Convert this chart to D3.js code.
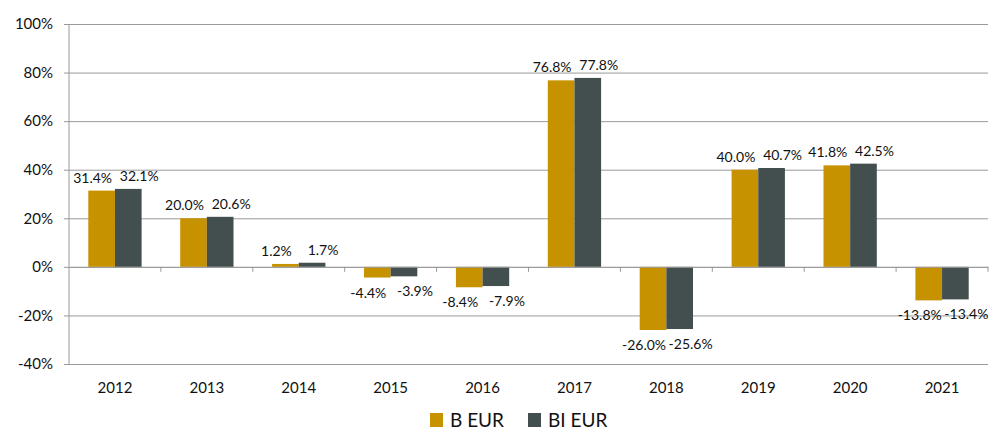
<!DOCTYPE html>
<html>
<head>
<meta charset="utf-8">
<script src="https://cdn.jsdelivr.net/npm/d3@7"></script>
<style>
  body { margin: 0; background: #fff; }
  text { font-family: Lato, "Open Sans", sans-serif; fill: #111; }
</style>
</head>
<body>
<svg width="990" height="430"></svg>
<script>
var years = ["2012", "2013", "2014", "2015", "2016", "2017", "2018", "2019", "2020", "2021"];
var bEur = [31.4, 20.0, 1.2, -4.4, -8.4, 76.8, -26.0, 40.0, 41.8, -13.8];
var biEur = [32.1, 20.6, 1.7, -3.9, -7.9, 77.8, -25.6, 40.7, 42.5, -13.4];
var seriesNames = ["B EUR", "BI EUR"];
var yTicks = [-40, -20, 0, 20, 40, 60, 80, 100];

var colors = { "B EUR": "#c79200", "BI EUR": "#434e4f" };
// labels sit a bit outward from their bar, like the original
var labelShift = { "B EUR": -9, "BI EUR": 11 };

var margin = { top: 24, right: 2, bottom: 66, left: 69 },
    width = 990 - margin.left - margin.right,
    height = 430 - margin.top - margin.bottom;

var svg = d3.select("svg")
  .append("g")
  .attr("transform", "translate(" + margin.left + "," + margin.top + ")");

var x = d3.scaleBand().domain(years).range([0, width]);
var xInner = d3.scaleBand().domain(seriesNames).range([x.bandwidth() * 0.21, x.bandwidth() * 0.79]);
var y = d3.scaleLinear().domain([-40, 100]).range([height, 0]);

// gridlines + y labels
svg.append("g")
  .attr("class", "y-axis")
  .call(d3.axisLeft(y).tickValues(yTicks).tickSize(-width).tickFormat(function (d) { return d + "%"; }))
  .call(function (g) {
    g.select(".domain").remove();
    g.selectAll(".tick line").attr("stroke", "#9a9a9a").attr("x1", -5);
    g.selectAll(".tick text").attr("x", -16).style("font-size", "15px");
  });

// left axis line
svg.append("line")
  .attr("x1", 0).attr("x2", 0).attr("y1", 0).attr("y2", height)
  .attr("stroke", "#9a9a9a");

var rows = years.map(function (yr, i) {
  return { year: yr, values: [{ key: "B EUR", v: bEur[i] }, { key: "BI EUR", v: biEur[i] }] };
});

var groups = svg.append("g").selectAll("g")
  .data(rows).enter().append("g")
  .attr("transform", function (d) { return "translate(" + x(d.year) + ",0)"; });

groups.selectAll("rect")
  .data(function (d) { return d.values; })
  .enter().append("rect")
  .attr("x", function (d) { return xInner(d.key); })
  .attr("width", xInner.bandwidth())
  .attr("y", function (d) { return y(Math.max(0, d.v)); })
  .attr("height", function (d) { return Math.abs(y(d.v) - y(0)); })
  .attr("fill", function (d) { return colors[d.key]; });

groups.selectAll("text.val")
  .data(function (d) { return d.values; })
  .enter().append("text")
  .attr("class", "val")
  .attr("x", function (d) { return xInner(d.key) + xInner.bandwidth() / 2 + labelShift[d.key]; })
  .attr("y", function (d) { return d.v >= 0 ? y(d.v) - 8 : y(d.v) + 20; })
  .attr("text-anchor", "middle")
  .style("font-size", "14px")
  .text(function (d) { return d.v.toFixed(1) + "%"; });

// x axis at 0 with downward ticks
svg.append("g")
  .attr("transform", "translate(0," + y(0) + ")")
  .call(d3.axisBottom(x).tickSize(0).tickFormat(""))
  .call(function (g) { g.select(".domain").attr("stroke", "#9a9a9a"); });

svg.append("g").selectAll("line")
  .data(years)
  .enter().append("line")
  .attr("x1", function (d) { return x(d) + x.bandwidth(); })
  .attr("x2", function (d) { return x(d) + x.bandwidth(); })
  .attr("y1", y(0)).attr("y2", y(0) + 5)
  .attr("stroke", "#9a9a9a");

// year labels under the plot
svg.append("g").selectAll("text")
  .data(years)
  .enter().append("text")
  .attr("x", function (d) { return x(d) + x.bandwidth() / 2; })
  .attr("y", height + 29)
  .attr("text-anchor", "middle")
  .style("font-size", "15px")
  .text(function (d) { return d; });

// legend
var legend = svg.append("g")
  .attr("transform", "translate(" + (430 - margin.left) + "," + (height + 49) + ")");

var legendItems = legend.selectAll("g")
  .data(seriesNames)
  .enter().append("g")
  .attr("transform", function (d, i) { return "translate(" + (i * 98) + ",0)"; });

legendItems.append("rect")
  .attr("width", 13).attr("height", 14)
  .attr("fill", function (d) { return colors[d]; });

legendItems.append("text")
  .attr("x", 20).attr("y", 14)
  .style("font-size", "19px")
  .text(function (d) { return d; });
</script>
</body>
</html>
